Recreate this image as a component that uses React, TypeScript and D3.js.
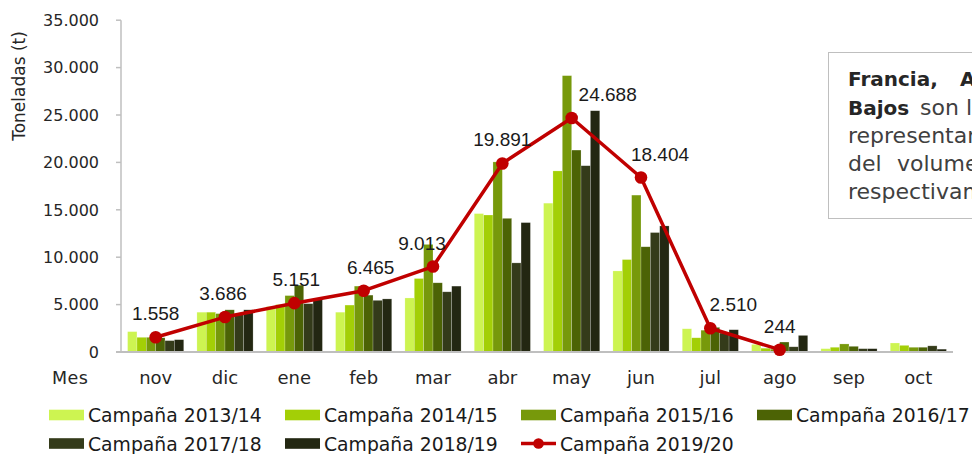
import React from "react";
import * as d3 from "d3";

const months = ["nov", "dic", "ene", "feb", "mar", "abr", "may", "jun", "jul", "ago", "sep", "oct"];
const barSeriesNames = ["Campaña 2013/14", "Campaña 2014/15", "Campaña 2015/16", "Campaña 2016/17", "Campaña 2017/18", "Campaña 2018/19"];
const lineSeriesName = "Campaña 2019/20";

const c1314 = [2150, 4200, 4800, 4200, 5700, 14600, 15700, 8550, 2450, 800, 350, 950];
const c1415 = [1550, 4200, 5000, 4950, 7750, 14450, 19100, 9750, 1500, 400, 500, 700];
const c1516 = [1550, 4050, 5950, 6950, 11350, 20050, 29150, 16550, 2300, 300, 850, 500];
const c1617 = [1500, 4450, 7050, 6000, 7300, 14100, 21300, 11100, 2600, 1050, 600, 500];
const c1718 = [1200, 3950, 5100, 5450, 6350, 9400, 19650, 12600, 2000, 550, 350, 650];
const c1819 = [1300, 4450, 5650, 5600, 6950, 13650, 25450, 13300, 2350, 1750, 350, 300];
const c1920: (number | null)[] = [1558, 3686, 5151, 6465, 9013, 19891, 24688, 18404, 2510, 244, null, null];

const yTicks = [0, 5000, 10000, 15000, 20000, 25000, 30000, 35000];

const barColors = ["#cdf451", "#a3cf06", "#77990b", "#4c6305", "#343b1a", "#232712"];
const lineColor = "#c00000";
const labelDx = [0, -2, 2, 7, -11, 0, 36, 19, 23, 0, 0, 0];

const locale = d3.formatLocale({ decimal: ",", thousands: ".", grouping: [3], currency: ["", ""] });
const fmt = locale.format(",");

export default function App() {
  const W = 972, H = 454;
  const left = 121, right = 953, top = 20.2, bottom = 352;
  const barSeries = [c1314, c1415, c1516, c1617, c1718, c1819];

  const x = d3.scaleBand<string>().domain(months).range([left, right]).paddingInner(0.19).paddingOuter(0.095);
  const step = (right - left) / months.length;
  const xc = (m: string) => left + step * (months.indexOf(m) + 0.5);
  const xs = d3.scaleBand<number>().domain(d3.range(barSeries.length)).range([0, x.bandwidth()]);
  const y = d3.scaleLinear().domain([0, 35000]).range([bottom, top]);

  const linePts = months.map((m, i) => ({ m, v: c1920[i], i })).filter((d) => d.v != null) as { m: string; v: number; i: number }[];
  const line = d3.line<{ m: string; v: number }>().x((d) => xc(d.m)).y((d) => y(d.v));

  const axisFont = "'DejaVu Sans', sans-serif";
  const textCol = "#262626";

  const legendItems = [...barSeriesNames.map((n, i) => ({ n, i, kind: "bar" })), { n: lineSeriesName, i: 6, kind: "line" }];

  return (
    <div style={{ position: "absolute", left: 0, top: 0 }}>
      <svg width={W} height={H} style={{ display: "block", background: "#fff" }}>
        {/* text box */}
        <rect x={828.5} y={52.5} width={200} height={166} fill="#fff" stroke="#bfbfbf" strokeWidth={1} />
        <g fontFamily={axisFont} fill="#404040">
          <text x={848} y={86} fontSize={20} fontWeight="bold" fill="#262626">Francia,</text>
          <text x={960} y={86} fontSize={20} fontWeight="bold" fill="#262626">Alemania</text>
          <text x={848} y={115} fontSize={20} fontWeight="bold" fill="#262626">Bajos</text>
          <text x={920} y={115} fontSize={22}>son</text>
          <text x={966} y={115} fontSize={22}>los</text>
          <text x={848} y={143} fontSize={22}>representando</text>
          <text x={848} y={171} fontSize={22}>del</text>
          <text x={897} y={171} fontSize={22}>volumen</text>
          <text x={848} y={199} fontSize={22}>respectivamente</text>
        </g>

        {/* y axis */}
        <line x1={left} x2={left} y1={y(35000)} y2={bottom} stroke="#bfbfbf" strokeWidth={1.5} />
        {yTicks.map((t) => (
          <g key={t}>
            <line x1={left - 5} x2={left} y1={y(t)} y2={y(t)} stroke="#bfbfbf" strokeWidth={1.5} />
            <text x={99} y={y(t)} dy="0.36em" textAnchor="end" fontFamily={axisFont} fontSize={16} fill={textCol}>
              {fmt(t)}
            </text>
          </g>
        ))}
        <text transform={`translate(24.5,86) rotate(-90)`} textAnchor="middle" fontFamily={axisFont} fontSize={17} fill={textCol}>
          Toneladas (t)
        </text>

        {/* bars */}
        {barSeries.map((s, si) => (
          <g key={si} fill={barColors[si]}>
            {months.map((m, mi) => (
              <rect
                key={m}
                x={(x(m) as number) + (xs(si) as number)}
                y={y(s[mi])}
                width={xs.bandwidth()}
                height={bottom - y(s[mi])}
                stroke="#ffffff"
                strokeOpacity={0.35}
                strokeWidth={0.6}
              />
            ))}
          </g>
        ))}

        {/* x axis */}
        <line x1={left - 5} x2={right} y1={bottom} y2={bottom} stroke="#bfbfbf" strokeWidth={2} />
        {months.map((m) => (
          <text key={m} x={xc(m)} y={384} textAnchor="middle" fontFamily={axisFont} fontSize={18} fill={textCol}>
            {m}
          </text>
        ))}
        <text x={52} y={384} fontFamily={axisFont} fontSize={17.5} letterSpacing={0.5} fill={textCol}>
          Mes
        </text>

        {/* line series */}
        <path d={line(linePts) || ""} fill="none" stroke={lineColor} strokeWidth={3.5} strokeLinejoin="round" />
        {linePts.map((d) => (
          <circle key={d.m} cx={xc(d.m)} cy={y(d.v)} r={6.3} fill={lineColor} />
        ))}
        {linePts.map((d) => (
          <text
            key={"l" + d.m}
            x={xc(d.m) + labelDx[d.i]}
            y={y(d.v) - 17}
            textAnchor="middle"
            fontFamily="'Liberation Sans', Arial, sans-serif"
            fontSize={19}
            fill="#1a1a1a"
          >
            {fmt(d.v)}
          </text>
        ))}

        {/* legend */}
        {legendItems.map((it, k) => {
          const col = k % 4;
          const row = Math.floor(k / 4);
          const lx = 49 + col * 236;
          const cy = row === 0 ? 415 : 443.5;
          return (
            <g key={it.n}>
              {it.kind === "bar" ? (
                <rect x={lx} y={cy - 5.3} width={35} height={10.6} fill={barColors[it.i]} />
              ) : (
                <g>
                  <line x1={lx} x2={lx + 35} y1={cy} y2={cy} stroke={lineColor} strokeWidth={3.5} />
                  <circle cx={lx + 17.5} cy={cy} r={5.3} fill={lineColor} />
                </g>
              )}
              <text x={lx + 39} y={cy + 7} fontFamily={axisFont} fontSize={18.8} fill="#1a1a1a">
                {it.n}
              </text>
            </g>
          );
        })}
      </svg>
    </div>
  );
}
